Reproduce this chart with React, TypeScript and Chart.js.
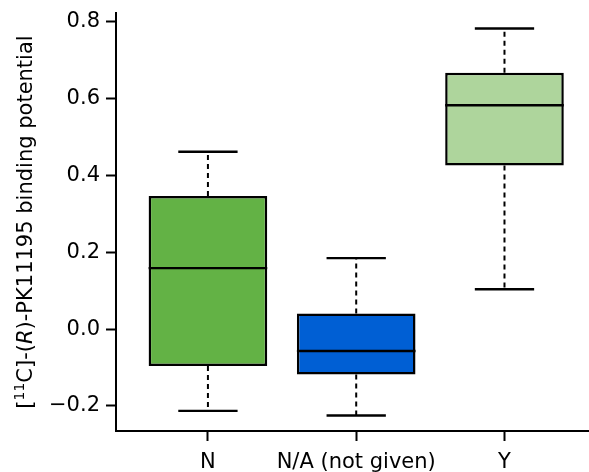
import React, { useEffect, useRef } from 'react';
import { Chart, registerables } from 'chart.js';

Chart.register(...registerables);

const categories = ['N', 'N/A (not given)', 'Y'];
const xPositions = [1, 2, 3];
const whiskerLow = [-0.213, -0.225, 0.104];
const quartile1 = [-0.096, -0.118, 0.426];
const medians = [0.159, -0.057, 0.583];
const quartile3 = [0.347, 0.041, 0.668];
const whiskerHigh = [0.462, 0.185, 0.783];
const boxColors = ['#63b245', '#005fd4', '#aed59c'];
const yTickValues = [-0.2, 0, 0.2, 0.4, 0.6, 0.8];

const FONT = "'DejaVu Sans', sans-serif";
const FONT_SIZE = 21;
const INK = '#000000';

const titlePlugin = {
  id: 'richYTitle',
  afterDraw(chart: any) {
    const ctx = chart.ctx;
    const area = chart.chartArea;
    const normal = `${FONT_SIZE}px ${FONT}`;
    const small = `${Math.round(FONT_SIZE * 0.66)}px ${FONT}`;
    const italic = `oblique ${FONT_SIZE}px ${FONT}`;
    const segs = [
      { t: '[', f: normal, dy: 0 },
      { t: '11', f: small, dy: -FONT_SIZE * 0.36 },
      { t: 'C]-(', f: normal, dy: 0 },
      { t: 'R', f: italic, dy: 0 },
      { t: ')-PK11195 binding potential', f: normal, dy: 0 },
    ];
    ctx.save();
    let total = 0;
    const widths: number[] = [];
    for (const s of segs) {
      ctx.font = s.f;
      const w = ctx.measureText(s.t).width;
      widths.push(w);
      total += w;
    }
    ctx.translate(32, (area.top + area.bottom) / 2);
    ctx.rotate(-Math.PI / 2);
    ctx.fillStyle = INK;
    ctx.textBaseline = 'alphabetic';
    ctx.textAlign = 'left';
    let x = -total / 2;
    segs.forEach((s, i) => {
      ctx.font = s.f;
      ctx.fillText(s.t, x, s.dy);
      x += widths[i];
    });
    ctx.restore();
  },
};

export default function App() {
  const canvasRef = useRef<HTMLCanvasElement | null>(null);

  useEffect(() => {
    if (!canvasRef.current) return;

    const allVals = [...whiskerLow, ...whiskerHigh];
    const lo = Math.min(...allVals);
    const hi = Math.max(...allVals);
    const pad = (hi - lo) * 0.04;
    const yMin = lo - pad;
    const yMax = hi + pad;
    const xMin = 0.5 - 3 * 0.04;
    const xMax = 3.57;

    const boxHalf = 0.4;
    const capHalf = 0.2;

    const lineDs = (pts: { x: number; y: number }[], dashed: boolean) => ({
      type: 'line' as const,
      data: pts,
      borderColor: '#000000',
      borderWidth: dashed ? 2 : 2.4,
      borderDash: dashed ? [5, 4] : [],
      pointRadius: 0,
      fill: false,
      showLine: true,
      order: 0,
    });

    const datasets: any[] = [];
    datasets.push({
      type: 'bar',
      data: xPositions.map((x, i) => ({ x, y: [quartile1[i], quartile3[i]] })),
      backgroundColor: boxColors,
      borderColor: '#000000',
      borderWidth: 2.5,
      borderSkipped: false,
      categoryPercentage: 1,
      barPercentage: 0.8,
      order: 10,
    });
    xPositions.forEach((x, i) => {
      datasets.push(lineDs([{ x: x - boxHalf, y: medians[i] }, { x: x + boxHalf, y: medians[i] }], false));
      datasets.push(lineDs([{ x, y: quartile3[i] }, { x, y: whiskerHigh[i] }], true));
      datasets.push(lineDs([{ x, y: quartile1[i] }, { x, y: whiskerLow[i] }], true));
      datasets.push(lineDs([{ x: x - capHalf, y: whiskerHigh[i] }, { x: x + capHalf, y: whiskerHigh[i] }], false));
      datasets.push(lineDs([{ x: x - capHalf, y: whiskerLow[i] }, { x: x + capHalf, y: whiskerLow[i] }], false));
    });

    const chart = new Chart(canvasRef.current, {
      type: 'bar',
      data: { datasets },
      options: {
        animation: false,
        responsive: false,
        maintainAspectRatio: false,
        layout: { padding: { top: 13, right: 0, left: 0, bottom: 0 } },
        plugins: { legend: { display: false }, tooltip: { enabled: false }, title: { display: false } },
        scales: {
          x: {
            type: 'linear',
            min: xMin,
            max: xMax,
            offset: false,
            grid: { display: true, offset: false, drawOnChartArea: false, drawTicks: true, tickLength: 10, tickWidth: 2, tickColor: '#000000' },
            border: { display: true, color: '#000000', width: 2 },
            afterBuildTicks: (scale: any) => {
              scale.ticks = xPositions.map((v) => ({ value: v }));
            },
            afterFit: (scale: any) => {
              scale.height = 41;
              scale.paddingLeft = 0;
              scale.paddingRight = 0;
            },
            ticks: {
              padding: 9,
              color: INK,
              font: { family: FONT, size: FONT_SIZE },
              maxRotation: 0,
              autoSkip: false,
              callback: (v: any) => {
                const idx = xPositions.indexOf(Number(v));
                return idx >= 0 ? categories[idx] : '';
              },
            },
          },
          y: {
            type: 'linear',
            min: yMin,
            max: yMax,
            grid: { display: true, drawOnChartArea: false, drawTicks: true, tickLength: 10, tickWidth: 2, tickColor: '#000000' },
            border: { display: true, color: '#000000', width: 2 },
            afterBuildTicks: (scale: any) => {
              scale.ticks = yTickValues.map((v) => ({ value: v }));
            },
            afterFit: (scale: any) => {
              scale.width = 116;
              scale.paddingTop = 0;
              scale.paddingBottom = 0;
            },
            ticks: {
              padding: 6,
              color: INK,
              font: { family: FONT, size: FONT_SIZE },
              autoSkip: false,
              callback: (v: any) => {
                const n = Number(v);
                const s = Math.abs(n).toFixed(1);
                return n < -1e-9 ? '\u2212' + s : s;
              },
            },
          },
        },
      },
      plugins: [titlePlugin],
    });

    return () => chart.destroy();
  }, []);

  return (
    <div style={{ position: 'fixed', left: 0, top: 0, width: 589, height: 472, background: '#ffffff' }}>
      <canvas ref={canvasRef} width={589} height={472} style={{ display: 'block' }} />
    </div>
  );
}
